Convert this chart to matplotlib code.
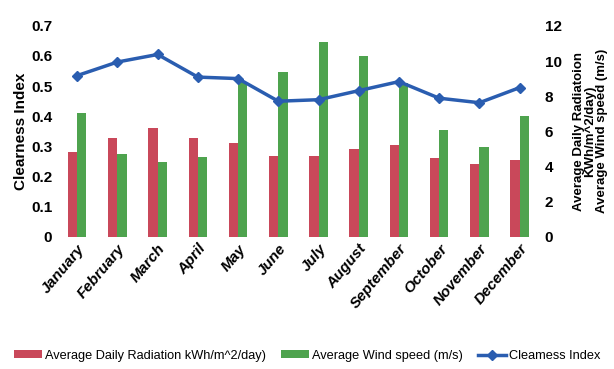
import matplotlib.pyplot as plt
import numpy as np

months = ['January', 'February', 'March', 'April', 'May', 'June', 'July',
          'August', 'September', 'October', 'November', 'December']
radiation = [4.85, 5.6, 6.2, 5.6, 5.35, 4.6, 4.6, 5.0, 5.2, 4.5, 4.15, 4.4]
wind_speed = [7.05, 4.7, 4.25, 4.55, 8.8, 9.4, 11.1, 10.3, 8.75, 6.1, 5.1, 6.9]
clearness = [0.535, 0.58, 0.605, 0.53, 0.525, 0.45, 0.455, 0.485, 0.515, 0.46, 0.445, 0.495]

plt.rcParams['font.family'] = ['Liberation Sans', 'DejaVu Sans']

fig = plt.figure(figsize=(6.14, 3.69), dpi=100)
ax = fig.add_axes([0.093, 0.358, 0.786, 0.572])
ax2 = ax.twinx()

x = np.arange(len(months))
w = 0.23
ax2.bar(x - w / 2, radiation, w, color='#c9485a', label='Average Daily Radiation kWh/m^2/day)')
ax2.bar(x + w / 2, wind_speed, w, color='#4ea34e', label='Average Wind speed (m/s)')
ax2.set_ylim(0, 12)
ax2.set_yticks(range(0, 13, 2))

ax.plot(x, clearness, color='#2a5db0', lw=2.5, marker='D', ms=5, label='Cleamess Index')
ax.set_ylim(0, 0.7)
ax.set_yticks(np.arange(0, 0.71, 0.1))
ax.set_yticklabels(['0'] + ['%.1f' % v for v in np.arange(0.1, 0.71, 0.1)])
ax.set_xlim(-0.5, 11.5)
ax.set_xticks(x)
ax.set_xticklabels(months, rotation=50, ha='right', rotation_mode='anchor',
                   fontstyle='italic', fontweight='bold', fontsize=9.5)

# line drawn on top of the bars
ax.set_zorder(ax2.get_zorder() + 1)
ax.patch.set_visible(False)

for a in (ax, ax2):
    for s in a.spines.values():
        s.set_visible(False)
    a.tick_params(length=0, labelsize=11)
    for t in a.get_yticklabels():
        t.set_fontweight('bold')

ax.set_ylabel('Clearness Index', fontsize=11, fontweight='bold', labelpad=2)
ax2.set_ylabel('Average Daily Radiatoion\nKWh/m^2/day)\nAverage Wind speed (m/s)',
               fontsize=9.5, fontweight='bold', linespacing=0.95, labelpad=8)

h2, l2 = ax2.get_legend_handles_labels()
h1, l1 = ax.get_legend_handles_labels()
fig.legend(h2 + h1, l2 + l1, loc='lower center', bbox_to_anchor=(0.5, -0.012), ncol=3,
           frameon=False, fontsize=9.2, handlelength=2.2, handleheight=0.6,
           handletextpad=0.2, columnspacing=1.2)

fig.savefig('out.png', dpi=100)
